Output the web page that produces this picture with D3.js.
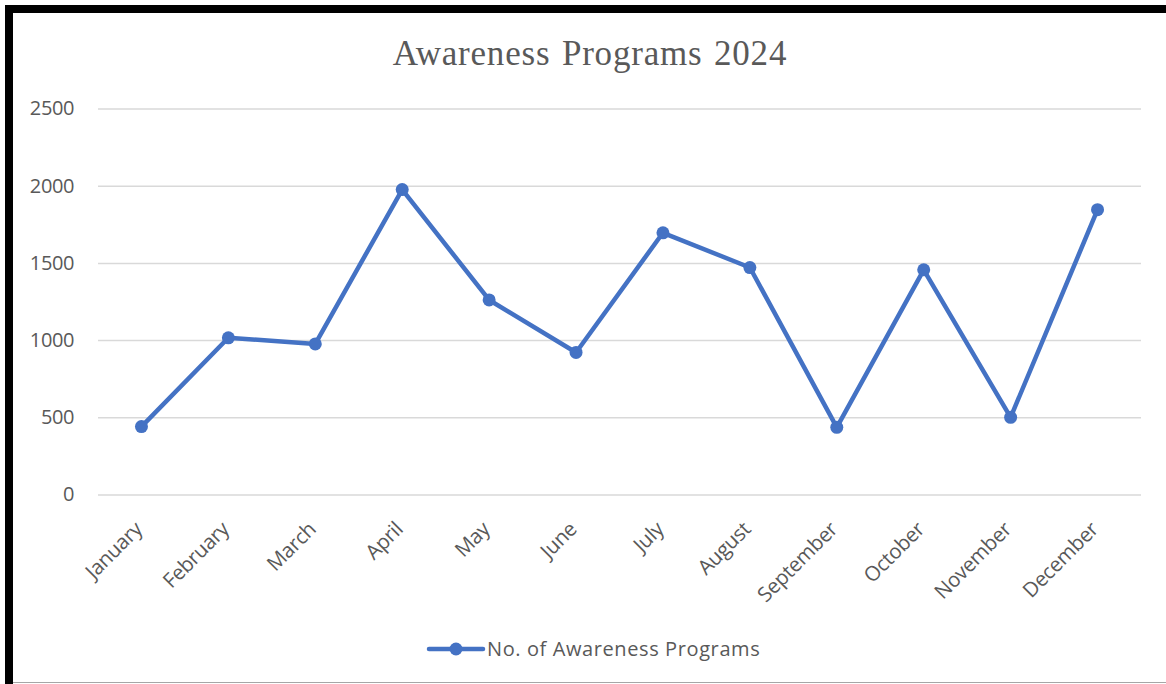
<!DOCTYPE html>
<html>
<head>
<meta charset="utf-8">
<script src="https://cdn.jsdelivr.net/npm/d3@7"></script>
<style>
  html, body { margin: 0; padding: 0; background: #fff; }
  svg { display: block; }
</style>
</head>
<body>
<svg id="chart" width="1166" height="684"></svg>
<script>
// Monthly counts of awareness programs held in 2024
const months = ["January", "February", "March", "April", "May", "June",
                "July", "August", "September", "October", "November", "December"];
const programs = [440, 1015, 975, 1975, 1260, 920, 1695, 1470, 435, 1455, 500, 1845];
const yTicks = [0, 500, 1000, 1500, 2000, 2500];
const titleText = "Awareness Programs 2024";
const seriesName = "No. of Awareness Programs";

const svg = d3.select("#chart");
const W = 1166, H = 684;
const blue = "#4472C4";
const textGray = "#595959";
const labelFont = "'Open Sans', 'Noto Sans', sans-serif";

// Frame: heavy black top/left edges, thin gray bottom edge
svg.append("rect").attr("x", 0).attr("y", 0).attr("width", W).attr("height", H).attr("fill", "#fff");
svg.append("rect").attr("x", 5).attr("y", 5).attr("width", W - 5).attr("height", 8).attr("fill", "#000");
svg.append("rect").attr("x", 5).attr("y", 5).attr("width", 8).attr("height", H - 5).attr("fill", "#000");
svg.append("line").attr("x1", 13).attr("x2", W).attr("y1", 682.5).attr("y2", 682.5)
  .attr("stroke", "#a6a6a6").attr("stroke-width", 1);

const plot = { left: 98, right: 1141, top: 108.5, bottom: 494.5 };

const x = d3.scaleBand().domain(months).range([plot.left, plot.right]);
const y = d3.scaleLinear().domain([0, 2500]).range([plot.bottom, plot.top]);

// Title
svg.append("text")
  .attr("x", 590).attr("y", 65)
  .attr("text-anchor", "middle")
  .attr("font-family", "'Liberation Serif', 'Times New Roman', serif")
  .attr("font-size", 35)
  .attr("letter-spacing", 0.8)
  .attr("word-spacing", 2)
  .attr("fill", textGray)
  .text(titleText);

// Horizontal gridlines + y labels
const yAxis = d3.axisLeft(y).tickValues(yTicks).tickFormat(d3.format("d"))
  .tickSize(-(plot.right - plot.left)).tickPadding(24);
const gy = svg.append("g").attr("transform", `translate(${plot.left},0)`).call(yAxis);
gy.select(".domain").remove();
gy.selectAll(".tick line").attr("stroke", "#d9d9d9").attr("stroke-width", 1.5);
gy.selectAll(".tick text")
  .attr("font-family", labelFont).attr("font-size", 20).attr("letter-spacing", -0.4)
  .attr("fill", textGray);

// Month labels, rotated
const xAxis = d3.axisBottom(x).tickSize(0).tickPadding(0);
const gx = svg.append("g").attr("transform", `translate(0,${plot.bottom})`).call(xAxis);
gx.select(".domain").remove();
gx.selectAll(".tick text")
  .attr("font-family", labelFont).attr("font-size", 20.5).attr("letter-spacing", -0.3)
  .attr("fill", textGray)
  .attr("text-anchor", "end")
  .attr("dy", null)
  .attr("transform", "translate(2,36) rotate(-45)");

// Series line
const line = d3.line().x((d, i) => x(months[i]) + x.bandwidth() / 2).y(d => y(d));
svg.append("path").datum(programs)
  .attr("d", line).attr("fill", "none")
  .attr("stroke", blue).attr("stroke-width", 4.5)
  .attr("stroke-linejoin", "round").attr("stroke-linecap", "round");

svg.append("g").selectAll("circle").data(programs).join("circle")
  .attr("cx", (d, i) => x(months[i]) + x.bandwidth() / 2)
  .attr("cy", d => y(d)).attr("r", 6.5).attr("fill", blue);

// Legend
const lg = svg.append("g").attr("transform", "translate(0,649)");
lg.append("line").attr("x1", 429).attr("x2", 483).attr("y1", 0).attr("y2", 0)
  .attr("stroke", blue).attr("stroke-width", 4.5).attr("stroke-linecap", "round");
lg.append("circle").attr("cx", 456).attr("cy", 0).attr("r", 6.5).attr("fill", blue);
lg.append("text").attr("x", 487).attr("y", 0).attr("dy", "0.35em")
  .attr("font-family", labelFont).attr("font-size", 20).attr("letter-spacing", 0.6)
  .attr("fill", textGray).text(seriesName);
</script>
</body>
</html>
